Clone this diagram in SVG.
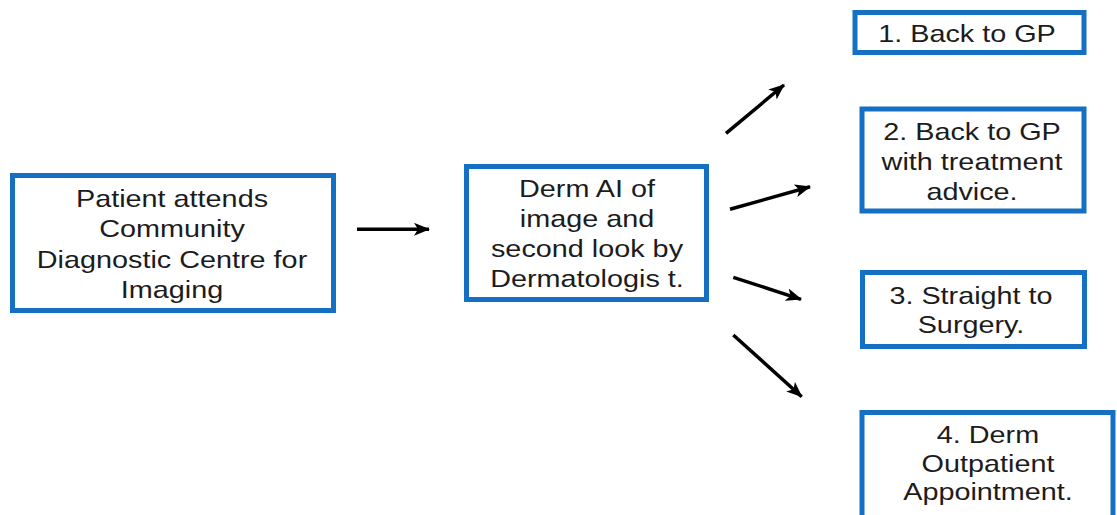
<svg xmlns="http://www.w3.org/2000/svg" width="1117" height="515" viewBox="0 0 1117 515">
<style>
.box{fill:#ffffff;stroke:#1570c4;stroke-width:5;}
.t{font-family:"Liberation Sans",Arial,sans-serif;font-size:24px;fill:#1c1c1c;text-anchor:middle;}
.c{stroke:#000;stroke-width:3.5;fill:none;marker-end:url(#ah);}
</style>
<defs>
<marker id="ah" viewBox="0 0 16 13" refX="15" refY="6.5" markerWidth="16" markerHeight="13" markerUnits="userSpaceOnUse" orient="auto">
<path d="M0,0 L16,6.5 L0,13 L4,6.5 z" fill="#000"/>
</marker>
</defs>
<rect width="1117" height="515" fill="#ffffff"/>
<g id="patient">
<rect class="box" x="12.5" y="175.5" width="321" height="135"/>
<g transform="translate(172 0) scale(1.2 1)">
<text class="t" x="0" y="207">Patient attends</text>
<text class="t" x="0" y="237.5">Community</text>
<text class="t" x="0" y="268">Diagnostic Centre for</text>
<text class="t" x="0" y="298.5">Imaging</text>
</g>
</g>
<g id="dermai">
<rect class="box" x="466.5" y="166.5" width="240" height="133"/>
<g transform="translate(587 0) scale(1.2 1)">
<text class="t" x="0" y="197">Derm AI of</text>
<text class="t" x="0" y="227">image and</text>
<text class="t" x="0" y="257">second look by</text>
<text class="t" x="0" y="287.5">Dermatologis t.</text>
</g>
</g>
<g id="gp">
<rect class="box" x="855" y="12.5" width="229" height="40"/>
<g transform="translate(967 0) scale(1.2 1)">
<text class="t" x="0" y="42">1. Back to GP</text>
</g>
</g>
<g id="gpadvice">
<rect class="box" x="862" y="109" width="222" height="102"/>
<g transform="translate(972 0) scale(1.2 1)">
<text class="t" x="0" y="140">2. Back to GP</text>
<text class="t" x="0" y="170">with treatment</text>
<text class="t" x="0" y="200">advice.</text>
</g>
</g>
<g id="surgery">
<rect class="box" x="862.5" y="272.5" width="222" height="74"/>
<g transform="translate(971 0) scale(1.2 1)">
<text class="t" x="0" y="304.5">3. Straight to</text>
<text class="t" x="0" y="333">Surgery.</text>
</g>
</g>
<g id="outpatient">
<rect class="box" x="862" y="412.5" width="251" height="110"/>
<g transform="translate(988 0) scale(1.2 1)">
<text class="t" x="0" y="443.5">4. Derm</text>
<text class="t" x="0" y="472">Outpatient</text>
<text class="t" x="0" y="500">Appointment.</text>
</g>
</g>
<g id="connectors">
<line class="c" x1="357" y1="229.3" x2="429" y2="229.3"/>
<line class="c" x1="726" y1="133.3" x2="784" y2="85"/>
<line class="c" x1="730" y1="209.3" x2="810" y2="186.7"/>
<line class="c" x1="733.3" y1="277.3" x2="801" y2="299.3"/>
<line class="c" x1="733.3" y1="335" x2="801.7" y2="396.7"/>
</g>
</svg>
